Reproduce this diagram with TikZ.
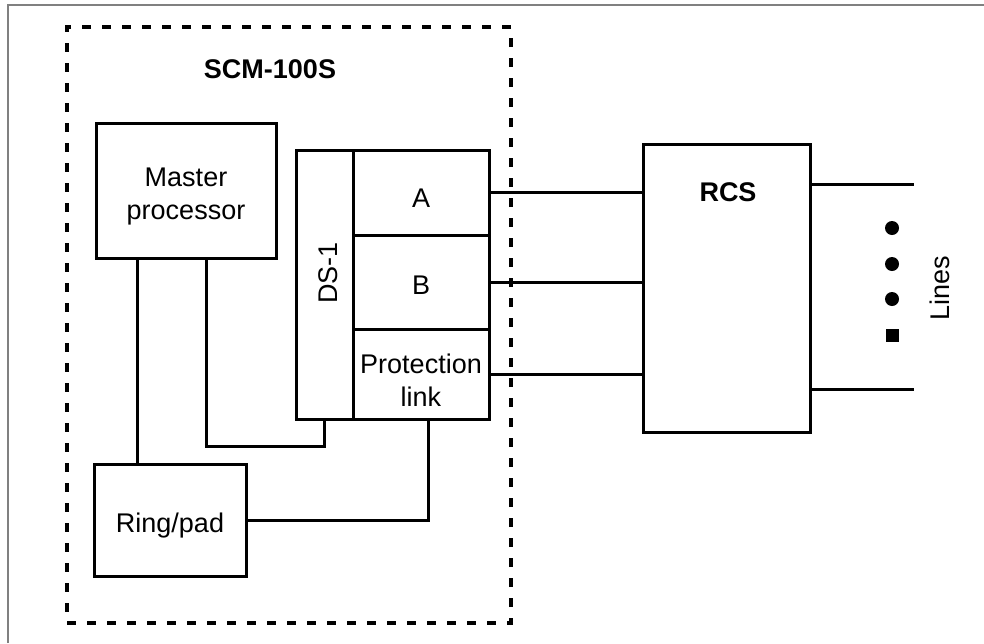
\documentclass[tikz,border=0pt]{standalone}
\usepackage{fontspec}
\setmainfont{Liberation Sans}
\usepackage{xcolor}
\definecolor{cLine}{HTML}{000000}
\definecolor{cFrame}{HTML}{808080}
\usetikzlibrary{positioning,calc}
\tikzset{
  node-box/.style={draw=cLine,line width=3pt,rectangle,inner sep=0pt},
  node-lbl/.style={font=\fontsize{27}{33}\selectfont,inner sep=0pt,
    align=center,yshift=-6pt},
  node-title/.style={font=\fontsize{27}{33}\selectfont\bfseries,inner sep=0pt},
  node-text/.style={font=\fontsize{27}{33}\selectfont,inner sep=0pt},
  node-dot/.style={circle,fill=cLine,minimum size=14pt,inner sep=0pt},
  node-sq/.style={rectangle,fill=cLine,minimum size=13pt,inner sep=0pt},
  wire/.style={draw=cLine,line width=3pt},
  border-dash/.style={draw=cLine,line width=3.2pt,dash pattern=on 9pt off 11pt},
}

\begin{document}
\begin{tikzpicture}[x=1pt,y=-1pt]
  \useasboundingbox (0,0) rectangle (984,643);
  % frame
  \draw[cFrame,line width=2pt] (8,643) -- (8,5) -- (984,5);
  % SCM-100S
  \node[border-dash,minimum width=444pt,minimum height=596pt] (scm) at (289,325) {};
  \node[node-title] (scmlbl) at (270,69) {SCM-100S};
  \node[node-box,minimum width=180pt,minimum height=135pt,
    label={[node-lbl]center:Master\\processor}] (master) at (186,190.5) {};
  \node[node-box,minimum width=57pt,minimum height=269pt] (ds1) at (324.5,284.5) {};
  \node[node-text,rotate=90] (ds1lbl) at (328,273) {DS-1};
  \node[node-box,minimum width=136pt,minimum height=85pt,
    label={[node-lbl]center:A}] (a) at (421,192.5) {};
  \node[node-box,minimum width=136pt,minimum height=94pt,
    label={[node-lbl,yshift=3pt]center:B}] (b) at (421,282) {};
  \node[node-box,minimum width=136pt,minimum height=90pt,
    label={[node-lbl]center:Protection\\link}] (pl) at (421,374) {};
  \node[node-box,minimum width=152pt,minimum height=112pt,
    label={[node-lbl]center:Ring/pad}] (ring) at (170,520) {};
  % RCS
  \node[node-box,minimum width=167pt,minimum height=288pt] (rcs) at (726.5,288) {};
  \node[node-title] (rcslbl) at (728,192) {RCS};
  \coordinate (ln1) at (914,184);
  \coordinate (ln2) at (914,389);
  \node[node-dot] (d1) at (892,228) {};
  \node[node-dot] (d2) at (892,264) {};
  \node[node-dot] (d3) at (892,299) {};
  \node[node-sq]  (d4) at (892,335) {};
  \node[node-text,rotate=90] (lines) at (940,288) {Lines};
  % links
  \draw[wire] (a.east) -- (a.east -| rcs.west);
  \draw[wire] (b.east) -- (b.east -| rcs.west);
  \draw[wire] (pl.east) -- (pl.east -| rcs.west);
  \draw[wire] (rcs.east |- ln1) -- (ln1);
  \draw[wire] (rcs.east |- ln2) -- (ln2);
  \draw[wire] ($(master.south west)+(43,0)$) -- ($(ring.north west)+(45,0)$);
  \draw[wire] ($(master.south west)+(112,0)$) |- ($(ds1.south west)+(30,26)$) -- ($(ds1.south west)+(30,0)$);
  \draw[wire] (ring.east) -| ($(pl.south west)+(77,0)$);
\end{tikzpicture}
\end{document}
